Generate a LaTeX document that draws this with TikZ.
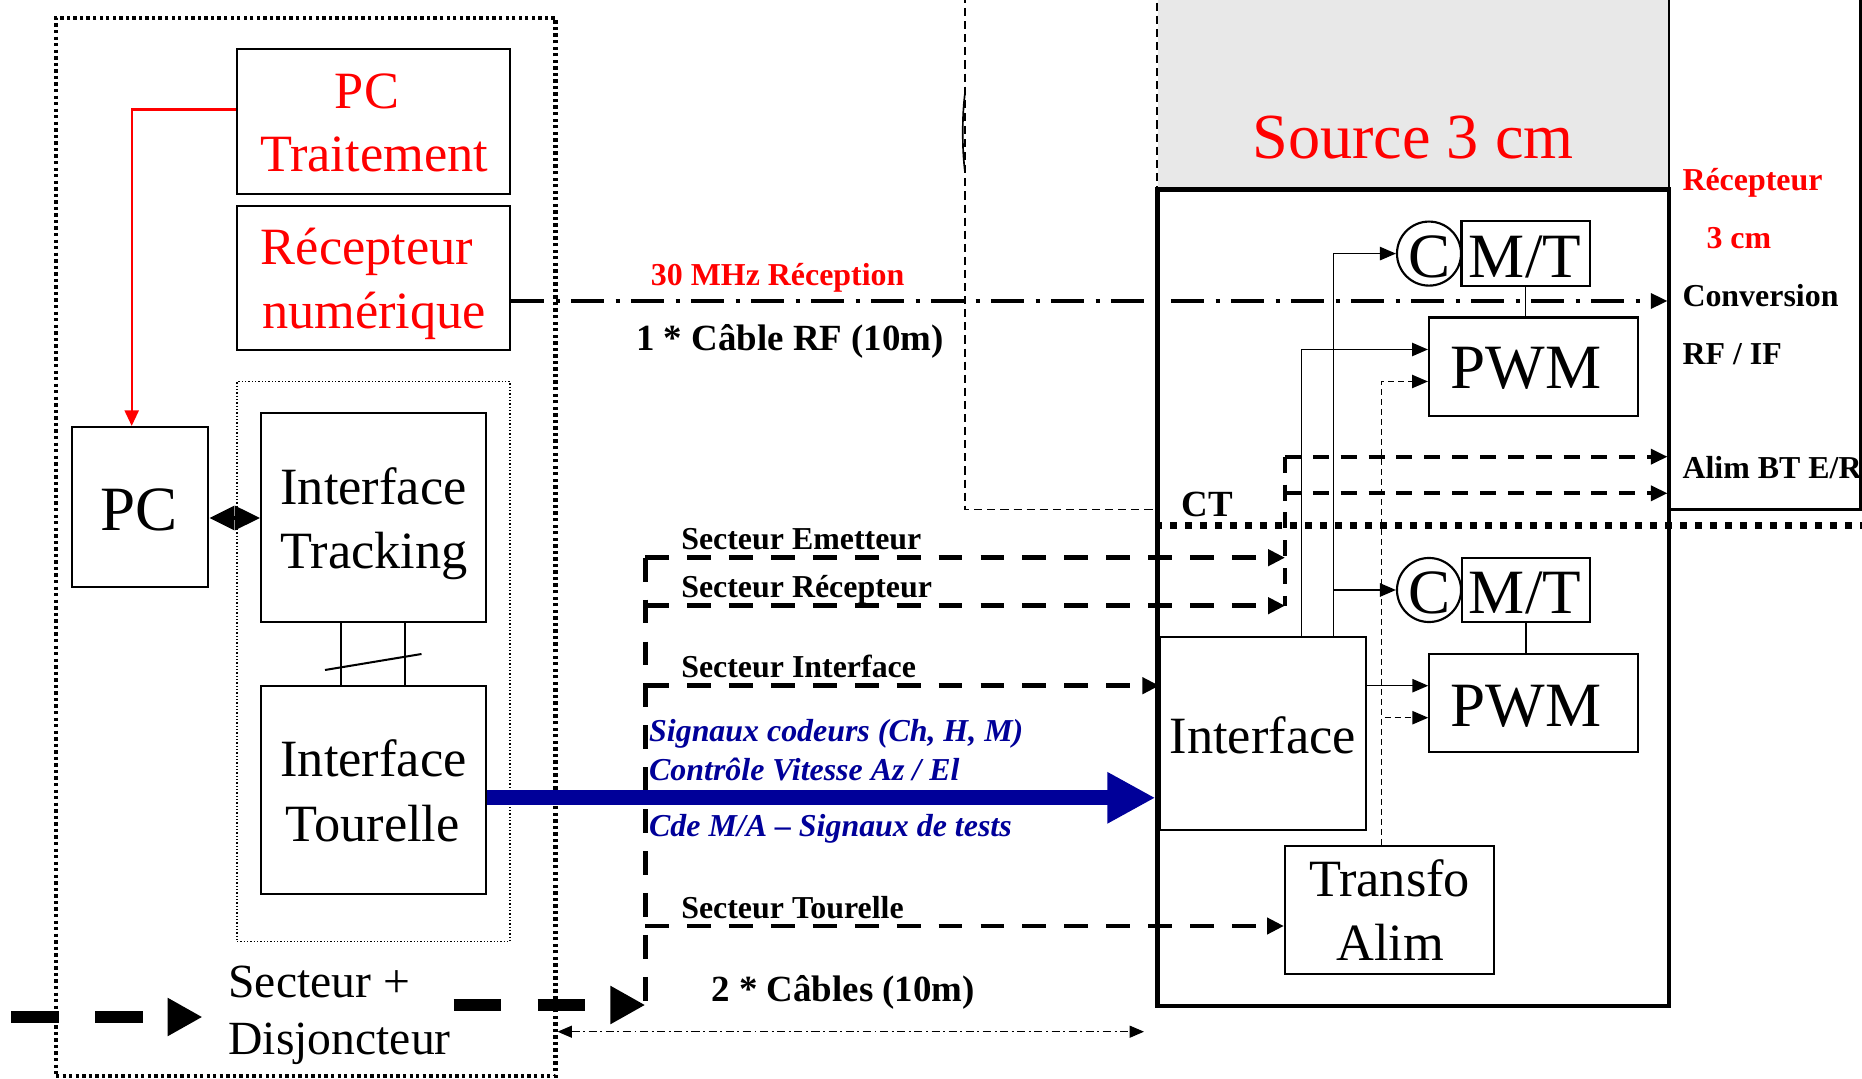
\documentclass[tikz,border=0pt]{standalone}
\usepackage{fontspec}
\setmainfont{Liberation Serif}
\usetikzlibrary{arrows.meta,fit,calc}
\definecolor{sigblue}{RGB}{0,0,153}
\definecolor{headgray}{RGB}{232,232,232}
\begin{document}
\begin{tikzpicture}[x=0.42pt,y=-0.42pt,
  box/.style={draw, line width=0.9pt, inner sep=0pt},
  tbig/.style={font=\fontsize{22pt}{26pt}\selectfont, anchor=base, inner sep=0pt},
  tlarge/.style={font=\fontsize{26.5pt}{30pt}\selectfont, anchor=base, inner sep=0pt},
  tsd/.style={font=\fontsize{20pt}{24pt}\selectfont, anchor=base west, inner sep=0pt},
  tlab/.style={font=\fontsize{13.4pt}{16pt}\selectfont\bfseries, anchor=base west, inner sep=0pt},
  tcab/.style={font=\fontsize{15.5pt}{18pt}\selectfont\bfseries, anchor=base west, inner sep=0pt},
  tsig/.style={font=\fontsize{13.4pt}{16pt}\selectfont\bfseries\itshape, text=sigblue, anchor=base west, inner sep=0pt},
  thindash/.style={line width=0.6pt, dash pattern=on 3.4pt off 2.1pt},
  thindashb/.style={line width=0.6pt, dash pattern=on 2.5pt off 1.7pt},
  sect/.style={line width=1.9pt, dash pattern=on 10pt off 7.6pt},
  rdash/.style={line width=1.7pt, dash pattern=on 6.7pt off 5pt},
  conn/.style={line width=0.65pt},
  huge/.style={line width=5pt, dash pattern=on 20pt off 15.3pt, -{Triangle[length=14.7pt,width=15.1pt]}},
  tipS/.tip={Triangle[length=7.1pt,width=6.7pt]},
  tipR/.tip={Triangle[length=7pt,width=6.2pt]},
  tipM/.tip={Triangle[length=6.7pt,width=5.6pt]},
  tipB/.tip={Triangle[length=10.5pt,width=10pt]},
  tipT/.tip={Triangle[length=6pt,width=5pt]}
]
\useasboundingbox (0,0) rectangle (1862,1079);
\fill[white] (0,0) rectangle (1862,1079);

% ---------- grey head of the source ----------
\node[fill=headgray, inner sep=0pt, fit={(1157.6,-10) (1669,189.4)}] (srchead) {};
\draw[thindash] (srchead.north west) -- (srchead.south west);

% ---------- containers ----------
\node[draw, line width=1.7pt, dash pattern=on 1.4pt off 1.35pt, inner sep=0pt, fit={(56,18) (555.5,1076)}] (outer) {};
\node[draw, line width=0.5pt, dash pattern=on 0.55pt off 0.85pt, inner sep=0pt, fit={(237,381.6) (510,941.5)}] (inner) {};

% ---------- boxes ----------
\node[box, fit={(237,49) (510,194)}] (pct) {};
\node[box, fit={(237,206) (510,350)}] (recnum) {};
\node[box, fit={(71.6,427) (208.4,587.4)}] (pc) {};
\node[box, fit={(261,413) (485.6,621.8)}] (itrack) {};
\node[box, fit={(261,685.8) (485.6,894)}] (itour) {};
\node[draw, line width=1.9pt, inner sep=0pt, fit={(1157.6,189.4) (1669,1006)}] (src) {};
\node[draw, line width=1.2pt, inner sep=0pt, fit={(1669,-10) (1860.5,509.6)}] (rbox) {};
\node[box, fit={(1461.5,221.4) (1589.7,285.8)}] (mtup) {};
\node[box, circle, minimum size=26.9pt] (cup) at (1429,253.6) {};
\node[box, fit={(1429,317.5) (1638,416)}] (pwmup) {};
\node[box, fit={(1461.8,557.7) (1589.6,622)}] (mtlow) {};
\node[box, circle, minimum size=26.9pt] (clow) at (1429,590) {};
\node[box, fit={(1429.3,654) (1637.9,751.7)}] (pwmlow) {};
\node[box, fit={(1160.4,637.3) (1365.7,830)}] (iface) {};
\node[box, fit={(1285,845.7) (1493.6,974)}] (transfo) {};

% ---------- free coordinates ----------
\coordinate (topd) at (965,-5);
\coordinate (ctend) at (1862,525.8);
\coordinate (ctjoin) at (1285,456.7);
\coordinate (ctbot) at (1285,605.7);
\coordinate (tr1) at (645.3,557.7);
\coordinate (tr2) at (645.3,605.7);
\coordinate (tr3) at (645.3,685.7);
\coordinate (tr4) at (645.3,926);
\coordinate (trb) at (645.3,1005);
\coordinate (sd0) at (11,1017);
\coordinate (sd1) at (202.5,1017);
\coordinate (sd2) at (453.5,1005);
\coordinate (cabend) at (1144,1031.7);

% ---------- connectors ----------
\draw[red, line width=0.85pt, -{Triangle[length=6.5pt,width=5.9pt]}] (pct.west |- 0,109.5) -| (131.7,0 |- pc.north);
\draw[line width=1.5pt, {tipB}-{tipB}] (pc.east |- 0,518) -- (itrack.west |- 0,518);
\draw[line width=0.85pt] (itrack.south -| 340.8,0) -- (itour.north -| 340.8,0);
\draw[line width=0.85pt] (itrack.south -| 405.3,0) -- (itour.north -| 405.3,0);
\draw[line width=0.85pt] (325,670) -- (421.5,654);

\draw[thindash] (topd) -- (965,509.6) -- (src.west |- 0,509.6);
\draw[line width=0.7pt] (965,93) .. controls (962,115) and (962,150) .. (965,172);

\draw[line width=1.55pt, dash pattern=on 13.9pt off 4.8pt on 1.7pt off 4.8pt, -{tipR}] (recnum.east |- 0,301) -- (rbox.west |- 0,301);

\draw[line width=2.9pt, dash pattern=on 2.7pt off 3.6pt] (src.west |- 0,525.8) -- (ctend);

\draw[sect] (tr1) -- (trb);
\draw[sect, -{tipS}] (tr1) -- (ctjoin |- tr1);
\draw[sect, -{tipS}] (tr2) -- (ctbot);
\draw[sect, -{tipS}] (tr3) -- (iface.west |- tr3);
\draw[sect, -{tipS}] (tr4) -- (transfo.west |- tr4);

\draw[rdash] (ctjoin) -- (ctbot);
\draw[rdash, -{tipR}] (ctjoin) -- (rbox.west |- ctjoin);
\draw[rdash, -{tipR}] (ctjoin |- 0,493.3) -- (rbox.west |- 0,493.3);

\draw[sigblue, line width=6.3pt, -{Triangle[length=20.2pt,width=20.2pt]}] (itour.east |- 0,797.8) -- (src.west |- 0,797.8);

\draw[conn, -{tipM}] (iface.north -| 1333.3,0) |- (cup.west);
\draw[conn, -{tipM}] (iface.north -| 1333.3,0) |- (clow.west);
\draw[conn, -{tipM}] (iface.north -| 1301.4,0) |- (pwmup.west |- 0,349.5);
\draw[conn, -{tipM}] (iface.east |- 0,685.7) -- (pwmlow.west |- 0,685.7);
\draw[thindashb, -{tipM}] (transfo.north -| 1381.5,0) |- (pwmup.west |- 0,381.5);
\draw[thindashb, -{tipM}] (transfo.north -| 1381.5,0) |- (pwmlow.west |- 0,717.7);
\draw[conn] (mtup.south) -- (mtup.south |- pwmup.north);
\draw[conn] (mtlow.south) -- (mtlow.south |- pwmlow.north);

\draw[line width=0.55pt, dash pattern=on 3.4pt off 1.5pt on 0.8pt off 1.5pt, {tipT}-{tipT}] (outer.east |- 0,1031.7) -- (cabend);

\draw[huge] (sd0) -- (sd1);
\draw[huge] (sd2) -- (trb);

% ---------- texts ----------
\node[tbig, text=red] (tpc1) at (367,108.5) {PC};
\node[tbig, text=red] (tpc2) at (374,172) {Traitement};
\node[tbig, text=red] (trn1) at (367,265) {Récepteur};
\node[tbig, text=red] (trn2) at (374,329) {numérique};
\node[tlarge] (tpc) at (139.4,530.3) {PC};
\node[tbig] (tit1) at (373.5,504.5) {Interface};
\node[tbig] (tit2) at (374,569) {Tracking};
\node[tbig] (tio1) at (373.5,776.5) {Interface};
\node[tbig] (tio2) at (372.7,841.8) {Tourelle};
\node[tsd] (tsd1) at (228,997) {Secteur +};
\node[tsd] (tsd2) at (228,1054) {Disjoncteur};
\node[font=\fontsize{27pt}{32pt}\selectfont, text=red, anchor=base, inner sep=0pt] (tsrc) at (1413,158.4) {Source 3 cm};
\node[tbig] (tif) at (1262.7,753.3) {Interface};
\node[tlarge] (tpwm1) at (1525.8,389) {PWM};
\node[tlarge] (tpwm2) at (1526,726.7) {PWM};
\node[tlarge] (tmt1) at (1525,277.2) {M/T};
\node[tlarge] (tc1) at (1429.7,277.2) {C};
\node[tlarge] (tmt2) at (1525,613.3) {M/T};
\node[tlarge] (tc2) at (1430,613.3) {C};
\node[tbig] (ttr1) at (1389.6,896.7) {Transfo};
\node[tbig] (ttr2) at (1390,960.7) {Alim};

\node[tlab, text=red] (l30) at (650.5,285.7) {30 MHz Réception};
\node[tcab] (lrf) at (635.7,351) {1 * Câble RF (10m)};
\node[tlab] (lse) at (680.8,550) {Secteur Emetteur};
\node[tlab] (lsr) at (680.8,597.7) {Secteur Récepteur};
\node[tlab] (lsi) at (680.8,677.3) {Secteur Interface};
\node[tlab] (lst) at (680.8,918.3) {Secteur Tourelle};
\node[tsig] (ls1) at (648.7,741.7) {Signaux codeurs (Ch, H, M)};
\node[tsig] (ls2) at (648.7,780) {Contrôle Vitesse Az / El};
\node[tsig] (ls3) at (648.7,836.7) {Cde M/A – Signaux de tests};
\node[tcab] (l2c) at (711,1001.7) {2 * Câbles (10m)};
\node[tcab] (lct) at (1181,516.5) {CT};
\node[tlab, text=red] (lr1) at (1682,191) {Récepteur};
\node[tlab, text=red] (lr2) at (1706,248.6) {3 cm};
\node[tlab] (lr3) at (1682,306.5) {Conversion};
\node[tlab] (lr4) at (1682,365) {RF / IF};
\node[tlab] (lr5) at (1682,479) {Alim BT E/R};
\end{tikzpicture}
\end{document}
